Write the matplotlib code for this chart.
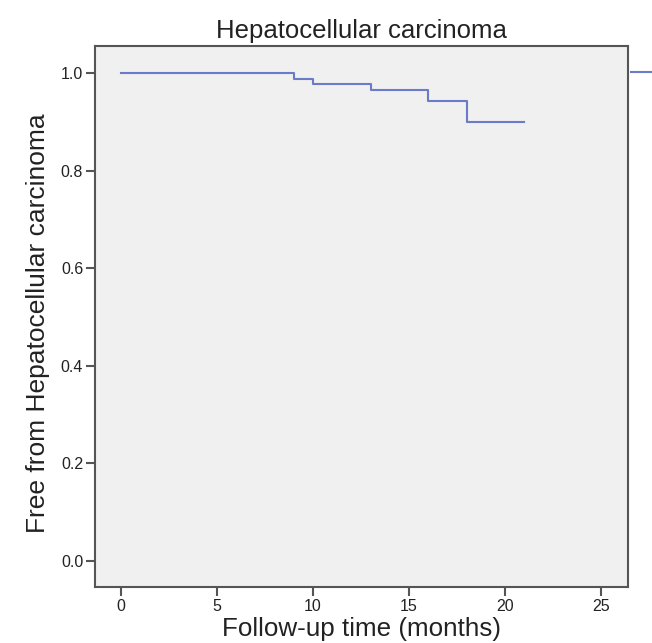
import matplotlib.pyplot as plt
from matplotlib.lines import Line2D

plt.rcParams["font.family"] = ["Liberation Sans", "DejaVu Sans"]

# Kaplan-Meier steps (months, survival)
months = [0, 9, 10, 13, 16, 18, 21]
survival = [1.0, 0.988, 0.977, 0.965, 0.943, 0.899, 0.899]
x_ticks = [0, 5, 10, 15, 20, 25]
y_ticks = [0.0, 0.2, 0.4, 0.6, 0.8, 1.0]

LINE = "#6a7cc8"
FRAME = "#555555"
W, H = 652, 643

fig = plt.figure(figsize=(W / 100, H / 100), dpi=100)
ax = fig.add_axes([95 / W, 1 - 587 / H, (628 - 95) / W, (587 - 46) / H])
ax.set_facecolor("#f0f0f0")

ax.step(months, survival, where="post", color=LINE, lw=1.5)

ax.set_xlim(-1.35, 26.4)
ax.set_ylim(-0.053, 1.055)
ax.set_xticks(x_ticks)
ax.set_yticks(y_ticks)
ax.set_yticklabels([f"{v:.1f}" for v in y_ticks])
ax.tick_params(direction="out", length=6.5, width=1.5, color=FRAME, pad=2,
               labelsize=11.5, labelcolor="#222222", top=False, right=False)
for side in ax.spines.values():
    side.set_color(FRAME)
    side.set_linewidth(1.5)

ax.set_title("Hepatocellular carcinoma", fontsize=18.5, pad=6, color="#222222")
ax.set_xlabel("Follow-up time (months)", fontsize=18.7, labelpad=2, color="#222222")
ax.set_ylabel("Free from Hepatocellular carcinoma", fontsize=19, color="#222222")
ax.yaxis.set_label_coords(-0.085, 0.487)

# legend line peeking in at the right edge (label is off the canvas)
fig.add_artist(Line2D([631 / W, 1.0], [1 - 72 / H] * 2, color=LINE, lw=1.5,
                      transform=fig.transFigure))

fig.savefig("out.png", dpi=100)
